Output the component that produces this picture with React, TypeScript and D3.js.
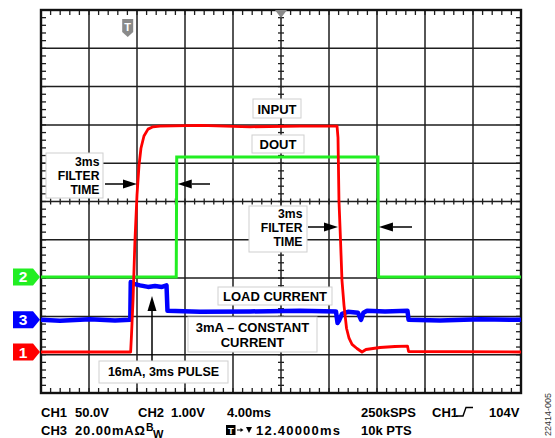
import React from 'react';
import * as d3 from 'd3';

const W = 555;
const H = 438;

// Horizontal: 4 ms/div, 10 div, trigger (t = 0) with 12.4 ms delay to center
const TIME_DOMAIN = [-7.6, 32.4];
const X_DIVS = 10;
const Y_DIVS = 10;

// CH1 INPUT (V), 50 V/div
const ch1Time = [-7.6, -0.13, -0.06, 0.07, 0.23, 0.4, 0.57, 0.73, 0.98, 1.32, 1.73, 2.32, 5.65, 9.82, 13.98, 17.07, 17.15, 17.23, 17.36, 17.48, 17.65, 17.86, 18.07, 18.32, 18.73, 19.15, 19.48, 20.65, 21.9, 22.94, 23.03, 32.4];
const ch1Volts = [0, 0, 22, 68, 146, 205, 244, 266, 282, 291, 294, 295, 296, 294, 295, 295, 280, 198, 146, 94, 61, 31, 18, 10, 4.6, 0, 3.3, 5.9, 7.2, 7.8, 0.7, 0];

// CH2 DOUT (V), 1 V/div
const ch2Time = [-7.6, 3.67, 3.71, 20.48, 20.53, 32.4];
const ch2Volts = [0, 0, 3.13, 3.13, 0, 0];

// CH3 LOAD CURRENT (mA), 20 mA/div
const ch3Time = [-7.6, -6.02, -3.52, -1.43, -0.16, -0.12, 0.15, 0.65, 1.32, 1.9, 2.48, 2.86, 2.94, 5.65, 9.82, 13.98, 16.98, 17.11, 17.23, 17.48, 17.98, 18.82, 19.07, 19.27, 19.57, 21.07, 22.94, 23.03, 25.65, 28.98, 32.4];
const ch3mA = [0, -0.5, 0.3, -0.3, 0, 19.8, 18.8, 18.0, 17.2, 17.7, 17.2, 18.0, 4.7, 4.2, 4.4, 4.7, 4.4, -1.6, -0.5, 3.1, 4.2, 3.7, 0, 3.7, 4.7, 4.4, 4.7, 0, -0.3, 0.3, 0];

// Channel settings: units per division and ground-marker offsets (div from center)
const channelNames = ['1', '2', '3'];
const channelPerDiv = [50, 1, 20];
const channelOffsetDiv = [-3.93, -1.97, -3.09];
const channelColors = ['#ff0000', '#22ee22', '#0000ff'];

const bottomRow1 = [
  { text: 'CH1', x: 41 }, { text: '50.0V', x: 75 },
  { text: 'CH2', x: 138 }, { text: '1.00V', x: 171 },
  { text: '4.00ms', x: 227 }, { text: '250kSPS', x: 361 },
  { text: 'CH1', x: 432 }, { text: '104V', x: 489 },
];
const bottomRow2 = [
  { text: 'CH3', x: 41 }, { text: '10k PTS', x: 361 },
];

const filterLines = ['3ms', 'FILTER', 'TIME'];

const FONT = '"Liberation Sans", Arial, Helvetica, sans-serif';

const L = 41, R = 521, T = 10, B = 393;

const x = d3.scaleLinear().domain(TIME_DOMAIN).range([L, R]);
const yDiv = d3.scaleLinear().domain([-Y_DIVS / 2, Y_DIVS / 2]).range([B, T]);
const xDiv = d3.scaleLinear().domain([0, X_DIVS]).range([L, R]);

function chY(ch: number, v: number) {
  return yDiv(channelOffsetDiv[ch] + v / channelPerDiv[ch]);
}

function tracePath(ch: number, ts: number[], vs: number[]) {
  const line = d3.line<number>()
    .x((_, i) => x(ts[i]))
    .y((_, i) => chY(ch, vs[i]));
  return line(ts) || '';
}

function Box({ x0, y0, w, h }: { x0: number; y0: number; w: number; h: number }) {
  return <rect x={x0} y={y0} width={w} height={h} fill="#fff" stroke="#cfcfcf" strokeWidth={1} />;
}

function HArrow({ tail, tip, y }: { tail: number; tip: number; y: number }) {
  const dir = tip > tail ? 1 : -1;
  const base = tip - dir * 14;
  return (
    <g>
      <line x1={tail} x2={base} y1={y} y2={y} stroke="#000" strokeWidth={1.5} />
      <path d={`M${tip},${y} L${base},${y - 4.5} L${base},${y + 4.5} Z`} fill="#000" />
    </g>
  );
}

export default function App() {
  const majorX = d3.range(0, X_DIVS + 1).map((i) => xDiv(i));
  const majorY = d3.range(-Y_DIVS / 2, Y_DIVS / 2 + 1).map((i) => yDiv(i));
  const minorX = d3.range(0, X_DIVS * 5 + 1).map((i) => xDiv(i / 5));
  const minorY = d3.range(0, Y_DIVS * 5 + 1).map((i) => yDiv(-Y_DIVS / 2 + i / 5));
  const cx = xDiv(X_DIVS / 2);
  const cy = yDiv(0);
  const trig = x(0);

  const textProps = { fontFamily: FONT, fontWeight: 700 as const, fontSize: 13, fill: '#000' };

  return (
    <svg width={W} height={H} style={{ position: 'absolute', left: 0, top: 0, background: '#fff' }}>
      <rect x={0} y={0} width={W} height={H} fill="#fff" />
      {/* grid */}
      <g stroke="#1e1e1e" strokeWidth={1.5}>
        {majorX.map((px, i) => <line key={'gx' + i} x1={px} x2={px} y1={T} y2={B} />)}
        {majorY.map((py, i) => <line key={'gy' + i} x1={L} x2={R} y1={py} y2={py} />)}
      </g>
      <g stroke="#1e1e1e" strokeWidth={1.3}>
        {minorX.map((px, i) => (
          <g key={'mx' + i}>
            <line x1={px} x2={px} y1={T} y2={T + 5} />
            <line x1={px} x2={px} y1={B - 5} y2={B} />
            <line x1={px} x2={px} y1={cy - 3} y2={cy + 3} />
          </g>
        ))}
        {minorY.map((py, i) => (
          <g key={'my' + i}>
            <line x1={L} x2={L + 5} y1={py} y2={py} />
            <line x1={R - 5} x2={R} y1={py} y2={py} />
            <line x1={cx - 3} x2={cx + 3} y1={py} y2={py} />
          </g>
        ))}
      </g>
      <rect x={L} y={T} width={R - L} height={B - T} fill="none" stroke="#111" strokeWidth={2.4} />

      {/* trigger marker & delay marker */}
      <path d={`M${trig - 10},19 h11 v13 l-5.5,5 l-5.5,-5 Z`} fill="#8a8a8a" />
      <text x={trig - 4.5} y={30.5} textAnchor="middle" fontFamily={FONT} fontWeight={700} fontSize={11} fill="#fff">T</text>
      <path d={`M${cx - 6},${T} L${cx + 6},${T} L${cx},${T + 8} Z`} fill="#8a8a8a" />

      {/* traces */}
      <path d={tracePath(2, ch3Time, ch3mA)} fill="none" stroke={channelColors[2]} strokeWidth={4.5} strokeLinejoin="round" />
      <path d={tracePath(1, ch2Time, ch2Volts)} fill="none" stroke={channelColors[1]} strokeWidth={3} strokeLinejoin="miter" />
      <path d={tracePath(0, ch1Time, ch1Volts)} fill="none" stroke={channelColors[0]} strokeWidth={2.8} strokeLinejoin="round" />

      {/* channel markers */}
      {channelNames.map((n, i) => {
        const py = yDiv(channelOffsetDiv[i]);
        return (
          <g key={'cm' + n}>
            <path d={`M13,${py - 8.5} L33,${py - 8.5} L40,${py} L33,${py + 8.5} L13,${py + 8.5} Z`} fill={channelColors[i]} />
            <text x={23} y={py + 5.5} textAnchor="middle" fontFamily={FONT} fontWeight={700} fontSize={15.5} fill="#fff">{n}</text>
          </g>
        );
      })}

      {/* annotations */}
      <Box x0={253} y0={99} w={48} h={19} />
      <text {...textProps} x={277} y={113.5} textAnchor="middle">INPUT</text>
      <Box x0={252} y0={135} w={52} h={18} />
      <text {...textProps} x={278} y={149} textAnchor="middle">DOUT</text>

      <Box x0={46} y0={153} w={57} h={45} />
      {filterLines.map((s, i) => (
        <text key={'fl1' + i} {...textProps} fontSize={12.2} x={99.5} y={166 + i * 14} textAnchor="end">{s}</text>
      ))}
      <HArrow tail={105} tip={x(0.4)} y={184} />
      <HArrow tail={210} tip={x(3.71) + 1} y={184} />

      <Box x0={249} y0={206} w={58} h={46} />
      {filterLines.map((s, i) => (
        <text key={'fl2' + i} {...textProps} fontSize={12.2} x={302.5} y={218 + i * 14} textAnchor="end">{s}</text>
      ))}
      <HArrow tail={308} tip={x(17.15)} y={227} />
      <HArrow tail={412} tip={x(20.48) + 1} y={227} />

      <Box x0={218} y0={287} w={114} h={18} />
      <text {...textProps} x={275} y={301} textAnchor="middle">LOAD CURRENT</text>

      <Box x0={188} y0={317} w={129} h={35} />
      <text {...textProps} x={252.5} y={332} textAnchor="middle">3mA – CONSTANT</text>
      <text {...textProps} x={252.5} y={346.5} textAnchor="middle">CURRENT</text>

      <line x1={x(1.65)} x2={x(1.65)} y1={361} y2={310} stroke="#000" strokeWidth={1.5} />
      <path d={`M${x(1.65)},296 L${x(1.65) - 4.5},311 L${x(1.65) + 4.5},311 Z`} fill="#000" />
      <Box x0={99} y0={361} w={129} h={22} />
      <text {...textProps} fontSize={12.5} x={163.5} y={376} textAnchor="middle">16mA, 3ms PULSE</text>

      {/* bottom readout */}
      {bottomRow1.map((d, i) => <text key={'b1' + i} {...textProps} x={d.x} y={416.5}>{d.text}</text>)}
      {bottomRow2.map((d, i) => <text key={'b2' + i} {...textProps} x={d.x} y={435}>{d.text}</text>)}
      <text {...textProps} x={75} y={435} textLength={70} lengthAdjust="spacing">20.00mAΩ</text>
      <text {...textProps} x={256} y={435} textLength={84} lengthAdjust="spacing">12.40000ms</text>
      <text {...textProps} fontSize={10.5} x={146} y={430.5}>B</text>
      <text {...textProps} fontSize={11} x={153} y={437.5}>W</text>
      <path d="M456,416 L463,416 L466,407.5 L473,407.5" fill="none" stroke="#000" strokeWidth={1.4} />
      <rect x={226} y={425} width={9.5} height={10} fill="#000" />
      <text x={230.8} y={433.5} textAnchor="middle" fontFamily={FONT} fontWeight={700} fontSize={9.5} fill="#fff">T</text>
      <line x1={237} x2={241} y1={430} y2={430} stroke="#000" strokeWidth={1} />
      <path d="M243.5,430 L240.5,428 L240.5,432 Z" fill="#000" />
      <path d="M246,427 L252,427 L249,433 Z" fill="#000" />

      <text x={551} y={436} transform="rotate(-90 551 436)" fontFamily={FONT} fontSize={9} fill="#333">22414-005</text>
    </svg>
  );
}
